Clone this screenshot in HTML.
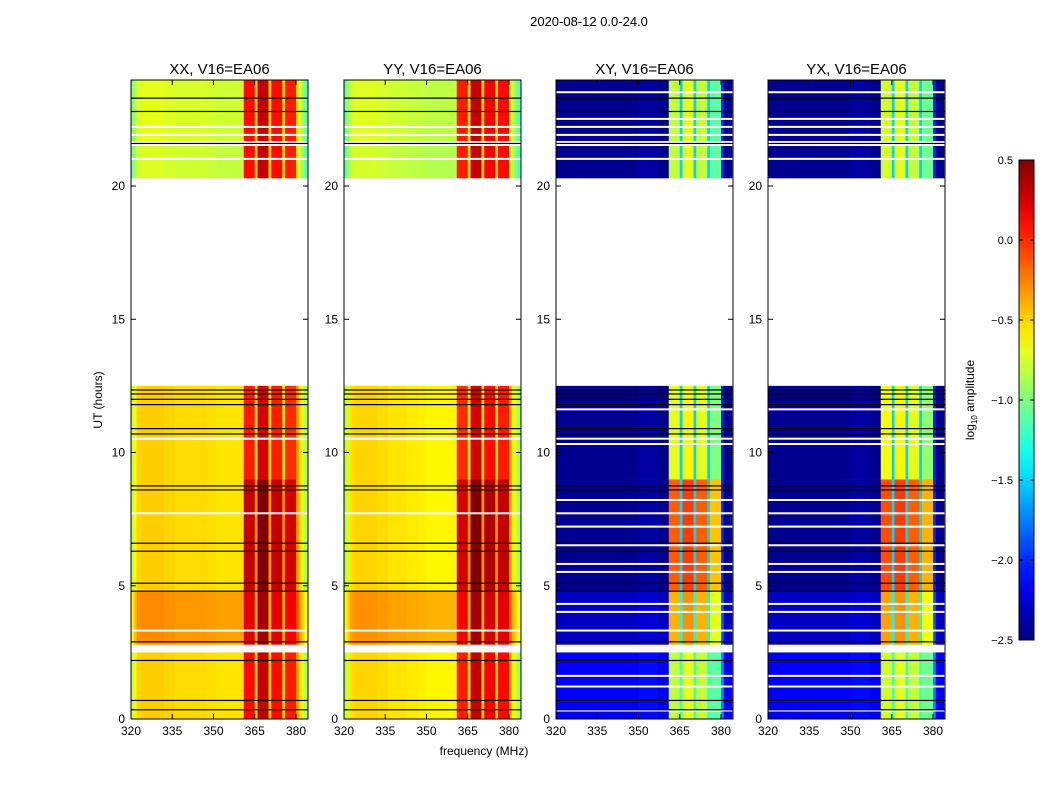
<!DOCTYPE html>
<html><head><meta charset="utf-8">
<style>
body{margin:0;background:#fff;font-family:"Liberation Sans",sans-serif}
svg text{font-family:"Liberation Sans",sans-serif;fill:#000}
</style></head>
<body>
<svg id="fig" width="1050" height="800" viewBox="0 0 1050 800" xmlns="http://www.w3.org/2000/svg">
<rect width="1050" height="800" fill="#fff"/>
<text x="589" y="26" font-size="13" text-anchor="middle">2020-08-12 0.0-24.0</text>
<text x="484" y="755" font-size="12" text-anchor="middle">frequency (MHz)</text>
<text transform="translate(102,400) rotate(-90)" font-size="12" text-anchor="middle">UT (hours)</text>
<text transform="translate(974,400) rotate(-90)" font-size="12" text-anchor="middle">log<tspan font-size="8" dy="3">10</tspan><tspan dy="-3"> amplitude</tspan></text>
<g id="panels"></g>
<g id="cbar"></g>
</svg>
<script>
// ---- data ----
const panelTitles = ["XX, V16=EA06","YY, V16=EA06","XY, V16=EA06","YX, V16=EA06"];
const freqStart = 320; // first 1-MHz channel
const xxFreq = [-0.8,-0.65,-0.5,-0.5,-0.48,-0.48,-0.48,-0.48,-0.48,-0.48,-0.48,-0.48,-0.5,-0.5,-0.5,-0.5,
 -0.52,-0.52,-0.52,-0.52,-0.52,-0.52,-0.52,-0.52,-0.52,-0.52,-0.52,-0.53,-0.53,-0.53,-0.53,-0.55,
 -0.55,-0.55,-0.55,-0.55,-0.55,-0.55,-0.55,-0.55,-0.55,0.1,0.1,0.1,0.1,-0.5,0.3,0.3,
 0.3,0.3,-0.5,0.1,0.1,0.1,0.1,-0.5,0.05,0.05,0.05,0.05,-0.3,-0.55,-0.7,-0.85];
const yyFreq = [-0.85,-0.7,-0.55,-0.52,-0.5,-0.5,-0.5,-0.5,-0.5,-0.5,-0.5,-0.5,-0.52,-0.52,-0.52,-0.52,
 -0.55,-0.55,-0.55,-0.55,-0.55,-0.55,-0.55,-0.57,-0.57,-0.57,-0.57,-0.58,-0.58,-0.58,-0.6,-0.6,
 -0.6,-0.6,-0.6,-0.6,-0.6,-0.6,-0.6,-0.6,-0.6,0.05,0.05,0.05,0.05,-0.5,0.3,0.3,
 0.3,0.3,-0.5,0.15,0.15,0.15,0.15,-0.5,0.1,0.1,0.1,0.1,-0.35,-0.6,-0.75,-0.9];
const xyFreq = [-2.45,-2.45,-2.45,-2.45,-2.45,-2.45,-2.45,-2.45,-2.45,-2.45,-2.45,-2.45,-2.45,-2.45,-2.45,-2.45,
 -2.45,-2.45,-2.45,-2.45,-2.45,-2.45,-2.45,-2.45,-2.45,-2.45,-2.45,-2.45,-2.45,-2.45,-2.4,-2.4,
 -2.4,-2.4,-2.4,-2.4,-2.4,-2.45,-2.45,-2.45,-2.45,-0.6,-0.6,-0.6,-0.6,-1.5,-0.5,-0.5,
 -0.5,-0.5,-1.5,-0.6,-0.6,-0.6,-0.6,-1.5,-0.9,-0.9,-0.9,-0.9,-2.0,-2.45,-2.45,-2.45];
const yxFreq = [-2.45,-2.45,-2.45,-2.45,-2.45,-2.45,-2.45,-2.45,-2.45,-2.45,-2.45,-2.45,-2.45,-2.45,-2.45,-2.45,
 -2.45,-2.45,-2.45,-2.45,-2.45,-2.45,-2.45,-2.45,-2.45,-2.45,-2.45,-2.45,-2.45,-2.45,-2.4,-2.4,
 -2.4,-2.4,-2.4,-2.4,-2.4,-2.45,-2.45,-2.45,-2.45,-0.55,-0.55,-0.55,-0.55,-1.5,-0.5,-0.5,
 -0.5,-0.5,-1.5,-0.6,-0.6,-0.6,-0.6,-1.5,-0.85,-0.85,-0.85,-0.85,-2.0,-2.45,-2.45,-2.45];
const bandLo = 361, bandHi = 380;
const segStart = [0,2.8,4.8,9.0,20.3,21.7];
const segEnd   = [2.5,4.8,9.0,12.5,21.5,24.0];
const autoBgOffset    = [0.0,0.2,0.0,0.0,-0.25,-0.22];
const autoBandOffset  = [0.0,0.1,0.2,-0.05,0.0,0.0];
const crossBgOffset   = [0.3,0.15,0.0,0.0,0.0,0.0];
const crossBandOffset = [-0.2,0.2,0.45,-0.1,-0.2,-0.2];
const blackLines = [0.35,0.7,2.2,2.9,4.8,5.1,6.3,6.6,8.6,8.75,10.7,10.9,11.8,12.0,12.2,12.35,21.6,22.8,23.3];
const whiteLinesAuto = [2.6,3.3,7.7,10.5,21.0,21.9,22.2];
const whiteLinesCross = [0.3,1.2,1.6,2.6,3.3,4.0,4.3,5.5,5.8,6.5,7.2,7.7,8.2,10.3,10.5,11.6,21.0,21.9,22.2,22.5,23.5];
const xTicks = [320,335,350,365,380];
const yTicks = [0,5,10,15,20];
const cbTicks = [0.5,0.0,-0.5,-1.0,-1.5,-2.0,-2.5];
// ---- layout ----
const NS="http://www.w3.org/2000/svg";
const x0s=[131,344,556,768], PW=177, YT=80, YB=719;
const vmin=-2.5, vmax=0.5;
function jet(v){let t=(v-vmin)/(vmax-vmin);t=Math.max(0,Math.min(1,t));
 const c=x=>Math.round(255*Math.max(0,Math.min(1,x)));
 return `rgb(${c(1.5-Math.abs(4*t-3))},${c(1.5-Math.abs(4*t-2))},${c(1.5-Math.abs(4*t-1))})`;}
function el(tag,attrs,parent){const e=document.createElementNS(NS,tag);for(const k in attrs)e.setAttribute(k,attrs[k]);parent.appendChild(e);return e;}
const panelsG=document.getElementById('panels');
const freqSets=[xxFreq,yyFreq,xyFreq,yxFreq];
for(let p=0;p<4;p++){
 const X0=x0s[p];
 const fx=f=>X0+(f-320)*2.75;
 const ty=t=>YB-t*26.65;
 const g=el('g',{},panelsG);
 
 
 const clipId='clip'+p;
 const cp=el('clipPath',{id:clipId},g);el('rect',{x:X0,y:YT,width:PW,height:YB-YT},cp);
 const hm=el('g',{'clip-path':`url(#${clipId})`},g);
 
 
 const fv=freqSets[p];
 const bgOff=p<2?autoBgOffset:crossBgOffset, bandOff=p<2?autoBandOffset:crossBandOffset;
 for(let s=0;s<segStart.length;s++){
  for(let i=0;i<fv.length;i++){
   const f=freqStart+i;
   const inBand=f>=bandLo&&f<bandHi&&fv[i]>-1.2;
   const v=fv[i]+(inBand?bandOff[s]:bgOff[s]);
   const r=el('rect',{x:fx(f),y:ty(segEnd[s]),width:3.1,height:ty(segStart[s])-ty(segEnd[s])+0.3,fill:jet(v)},hm);
   
   
  }
 }
 const wl=p<2?whiteLinesAuto:whiteLinesCross;
 for(const t of wl){const l=el('rect',{x:X0,y:ty(t)-1.5,width:PW,height:t==2.6?4:2,fill:'#fff'},hm);
  
  }
 for(const t of blackLines){const l=el('rect',{x:X0,y:ty(t)-0.5,width:PW,height:1.2,fill:'#000'},hm);
  
  }
 el('rect',{x:X0,y:YT,width:PW,height:YB-YT,fill:'none',stroke:'#000','stroke-width':1},g);
 const tt=el('text',{x:X0+PW/2,y:74,'font-size':15,'text-anchor':'middle'},g);tt.textContent=panelTitles[p];
 
 
 for(const f of xTicks){const x=fx(f);
  el('line',{x1:x,x2:x,y1:YB,y2:YB-5,stroke:'#000'},g);el('line',{x1:x,x2:x,y1:YT,y2:YT+5,stroke:'#000'},g);
  const t=el('text',{x:x,y:735,'font-size':12,'text-anchor':'middle'},g);t.textContent=f;
  
  }
 for(const v of yTicks){const y=ty(v);
  el('line',{x1:X0,x2:X0+5,y1:y,y2:y,stroke:'#000'},g);el('line',{x1:X0+PW,x2:X0+PW-5,y1:y,y2:y,stroke:'#000'},g);
  const t=el('text',{x:X0-6,y:y+4,'font-size':12,'text-anchor':'end'},g);t.textContent=v;
  
  }
}
// colorbar
const cb=document.getElementById('cbar');


const CT=160,CB=640,CX=1019,CW=15;
const defs=el('defs',{},cb);const lg=el('linearGradient',{id:'jetg',x1:0,y1:1,x2:0,y2:0},defs);
for(let i=0;i<=20;i++){el('stop',{offset:i/20,'stop-color':jet(vmin+(vmax-vmin)*i/20)},lg);}
el('rect',{x:CX,y:CT,width:CW,height:CB-CT,fill:'url(#jetg)',stroke:'#000'},cb);
for(const v of cbTicks){const y=CB-(v-vmin)/(vmax-vmin)*(CB-CT);
 el('line',{x1:CX,x2:CX+4,y1:y,y2:y,stroke:'#000'},cb);
 el('line',{x1:CX+CW-4,x2:CX+CW,y1:y,y2:y,stroke:'#000'},cb);
 const t=el('text',{x:1013,y:y+4,'font-size':11,'text-anchor':'end'},cb);t.textContent=v.toFixed(1).replace('-','\u2212');
 
 }
</script>
</body></html>
